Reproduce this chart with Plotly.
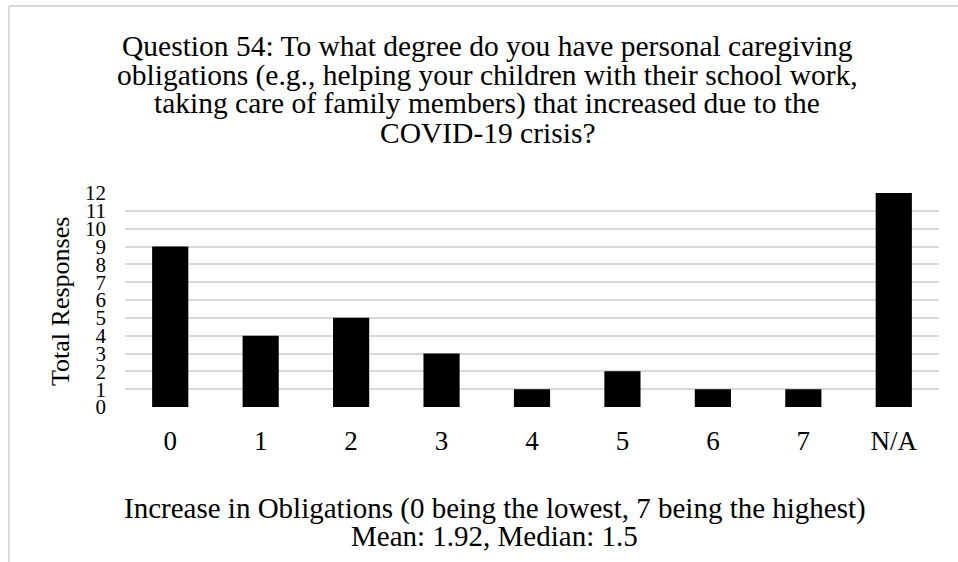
import plotly.graph_objects as go

categories = ["0", "1", "2", "3", "4", "5", "6", "7", "N/A"]
responses = [9, 4, 5, 3, 1, 2, 1, 1, 12]
y_ticks = list(range(0, 13))

title_lines = [
    "Question 54: To what degree do you have personal caregiving",
    "obligations (e.g., helping your children with their school work,",
    "taking care of family members) that increased due to the",
    "COVID-19 crisis?",
]
x_title_lines = [
    "Increase in Obligations (0 being the lowest, 7 being the highest)",
    "Mean: 1.92, Median: 1.5",
]
y_title = "Total Responses"

W, H = 958, 562
L, R, T, B = 125, 19, 193, 155
PW, PH = W - L - R, H - T - B

def px(x):
    return (x - L) / PW

def py(y):
    return (H - B - y) / PH

FONT = "Liberation Serif, Times New Roman, serif"

fig = go.Figure(go.Bar(
    x=categories, y=responses, marker=dict(color="black", line=dict(width=0)),
    width=0.4,
))

annotations = []
for i, line in enumerate(title_lines):
    annotations.append(dict(
        text=line, x=px(487), y=py(46 + i * 29), xref="paper", yref="paper",
        xanchor="center", yanchor="middle", showarrow=False,
        font=dict(family=FONT, size=29.5, color="black"),
    ))
for i, line in enumerate(x_title_lines):
    annotations.append(dict(
        text=line, x=px(494.5), y=py(508 + i * 28), xref="paper", yref="paper",
        xanchor="center", yanchor="middle", showarrow=False,
        font=dict(family=FONT, size=29, color="black"),
    ))
annotations.append(dict(
    text=y_title, x=px(60), y=py(302), xref="paper", yref="paper",
    xanchor="center", yanchor="middle", showarrow=False, textangle=-90,
    font=dict(family=FONT, size=26, color="black"),
))

shapes = [
    dict(type="line", xref="paper", yref="paper", x0=px(9), x1=px(960), y0=py(6), y1=py(6),
         line=dict(color="#d9d9d9", width=2)),
    dict(type="line", xref="paper", yref="paper", x0=px(9), x1=px(9), y0=py(6), y1=py(564),
         line=dict(color="#d9d9d9", width=2)),
]

fig.update_layout(
    width=W, height=H,
    margin=dict(l=L, r=R, t=T, b=B, pad=0),
    paper_bgcolor="white", plot_bgcolor="white",
    showlegend=False,
    bargap=0.6,
    annotations=annotations,
    shapes=shapes,
    xaxis=dict(
        type="category", showgrid=False, showline=False, zeroline=False,
        ticks="", ticklabelstandoff=15,
        tickfont=dict(family=FONT, size=27, color="black"),
    ),
    yaxis=dict(
        range=[0, 12], tickvals=y_ticks, showgrid=True, gridcolor="#d9d9d9", gridwidth=1.5,
        zeroline=False, showline=False, ticks="", ticklabelstandoff=18,
        tickfont=dict(family=FONT, size=21, color="black"),
    ),
)

fig.write_html("out.html", config={"displayModeBar": False},
               post_script="document.body.style.margin='0px';")
